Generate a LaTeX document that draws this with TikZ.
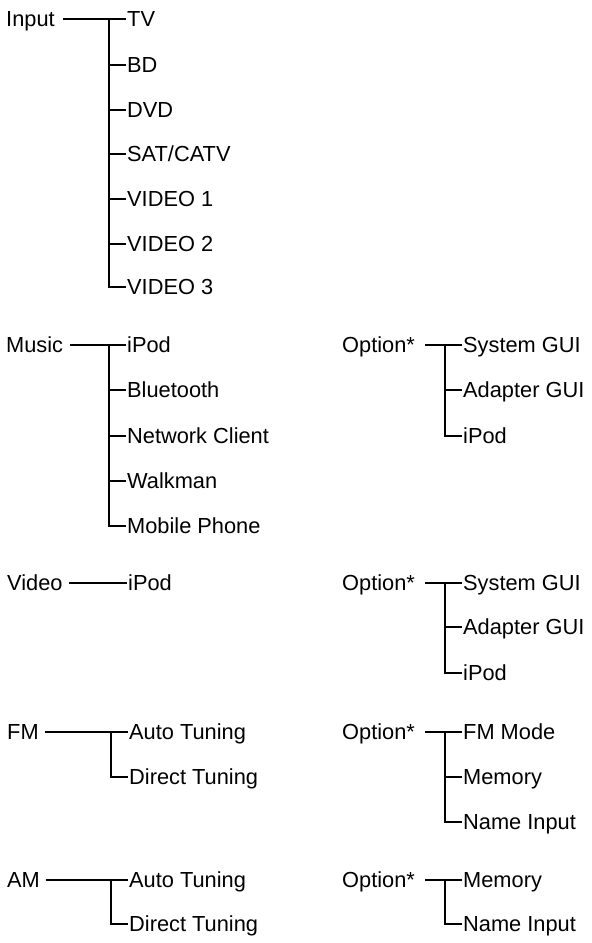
\documentclass[tikz,border=0pt]{standalone}
\usepackage{fontspec}
\setmainfont{Liberation Sans}
\begin{document}
\begin{tikzpicture}[x=1pt,y=-1pt,
  lbl/.style={inner sep=0pt, text height=15.4pt, text depth=0pt, anchor=west,
              font=\fontsize{21.8}{24}\selectfont},
  wire/.style={line width=1.8pt, line cap=butt, line join=miter}]
\useasboundingbox (0,0) rectangle (592,943);

% ---------- Input ----------
\node[lbl] (in) at (6,19) {Input};
\foreach \n/\t/\y in {in1/TV/19, in2/BD/65, in3/DVD/110, in4/SAT\slash CATV/154,
                      in5/VIDEO 1/199, in6/VIDEO 2/244, in7/VIDEO 3/287}
  \node[lbl] (\n) at (127,\y) {\t};
\coordinate (inJ) at (109,19);
\draw[wire] ([xshift=8pt]in.east) -- ([xshift=-1.5pt]in1.west);
\draw[wire] (inJ) -- (inJ |- in7.west) -- ([xshift=-1.5pt]in7.west);
\foreach \n in {in2,in3,in4,in5,in6}
  \draw[wire] ([xshift=-0.9pt]inJ |- \n.west) -- ([xshift=-1.5pt]\n.west);

% ---------- Music ----------
\node[lbl] (mu) at (6,345) {Music};
\foreach \n/\t/\y in {mu1/iPod/345, mu2/Bluetooth/390, mu3/Network Client/436,
                      mu4/Walkman/481, mu5/Mobile Phone/526}
  \node[lbl] (\n) at (127,\y) {\t};
\coordinate (muJ) at (109,345);
\draw[wire] ([xshift=6.5pt]mu.east) -- ([xshift=-1.5pt]mu1.west);
\draw[wire] (muJ) -- (muJ |- mu5.west) -- ([xshift=-1.5pt]mu5.west);
\foreach \n in {mu2,mu3,mu4}
  \draw[wire] ([xshift=-0.9pt]muJ |- \n.west) -- ([xshift=-1.5pt]\n.west);

% ---------- Music option ----------
\node[lbl] (mo) at (342,345) {Option*};
\foreach \n/\t/\y in {mo1/System GUI/345, mo2/Adapter GUI/390, mo3/iPod/436}
  \node[lbl] (\n) at (463,\y) {\t};
\coordinate (moJ) at (445,345);
\draw[wire] ([xshift=10pt]mo.east) -- ([xshift=-1.5pt]mo1.west);
\draw[wire] (moJ) -- (moJ |- mo3.west) -- ([xshift=-1.5pt]mo3.west);
\draw[wire] ([xshift=-0.9pt]moJ |- mo2.west) -- ([xshift=-1.5pt]mo2.west);

% ---------- Video ----------
\node[lbl] (vi) at (7,583) {Video};
\node[lbl] (vi1) at (128,583) {iPod};
\draw[wire] ([xshift=6.5pt]vi.east) -- ([xshift=-1.5pt]vi1.west);

% ---------- Video option ----------
\node[lbl] (vo) at (342,583) {Option*};
\foreach \n/\t/\y in {vo1/System GUI/583, vo2/Adapter GUI/627, vo3/iPod/673}
  \node[lbl] (\n) at (463,\y) {\t};
\coordinate (voJ) at (445,583);
\draw[wire] ([xshift=10pt]vo.east) -- ([xshift=-1.5pt]vo1.west);
\draw[wire] (voJ) -- (voJ |- vo3.west) -- ([xshift=-1.5pt]vo3.west);
\draw[wire] ([xshift=-0.9pt]voJ |- vo2.west) -- ([xshift=-1.5pt]vo2.west);

% ---------- FM ----------
\node[lbl] (fm) at (7,732) {FM};
\node[lbl] (fm1) at (129,732) {Auto Tuning};
\node[lbl] (fm2) at (129,777) {Direct Tuning};
\coordinate (fmJ) at (111,732);
\draw[wire] ([xshift=6pt]fm.east) -- ([xshift=-1.5pt]fm1.west);
\draw[wire] (fmJ) -- (fmJ |- fm2.west) -- ([xshift=-1.5pt]fm2.west);

% ---------- FM option ----------
\node[lbl] (fo) at (342,732) {Option*};
\foreach \n/\t/\y in {fo1/FM Mode/732, fo2/Memory/777, fo3/Name Input/822}
  \node[lbl] (\n) at (463,\y) {\t};
\coordinate (foJ) at (445,732);
\draw[wire] ([xshift=10pt]fo.east) -- ([xshift=-1.5pt]fo1.west);
\draw[wire] (foJ) -- (foJ |- fo3.west) -- ([xshift=-1.5pt]fo3.west);
\draw[wire] ([xshift=-0.9pt]foJ |- fo2.west) -- ([xshift=-1.5pt]fo2.west);

% ---------- AM ----------
\node[lbl] (am) at (7,880) {AM};
\node[lbl] (am1) at (129,880) {Auto Tuning};
\node[lbl] (am2) at (129,924) {Direct Tuning};
\coordinate (amJ) at (111,880);
\draw[wire] ([xshift=5.5pt]am.east) -- ([xshift=-1.5pt]am1.west);
\draw[wire] (amJ) -- (amJ |- am2.west) -- ([xshift=-1.5pt]am2.west);

% ---------- AM option ----------
\node[lbl] (ao) at (342,880) {Option*};
\node[lbl] (ao1) at (463,880) {Memory};
\node[lbl] (ao2) at (463,924) {Name Input};
\coordinate (aoJ) at (445,880);
\draw[wire] ([xshift=10pt]ao.east) -- ([xshift=-1.5pt]ao1.west);
\draw[wire] (aoJ) -- (aoJ |- ao2.west) -- ([xshift=-1.5pt]ao2.west);
\end{tikzpicture}
\end{document}
